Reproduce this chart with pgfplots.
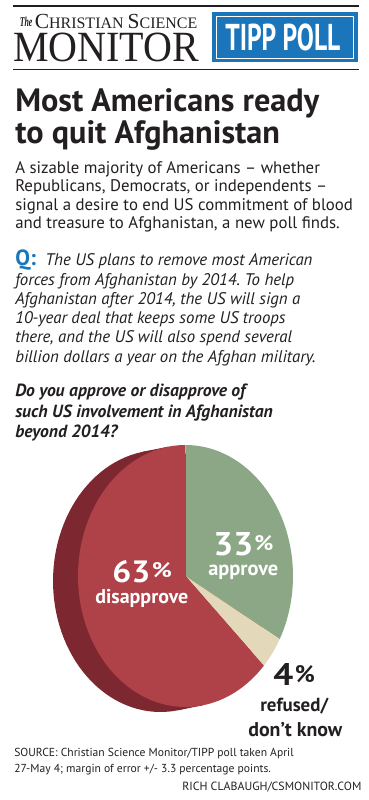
\documentclass[border=0pt]{standalone}
\usepackage{pgfplots}
\pgfplotsset{compat=1.18}
\usepackage{pgfplotstable}
\usepackage{fontspec}
\setmainfont{PT Sans}
\newfontfamily\seriflogo{Liberation Serif}
\frenchspacing
\definecolor{cred}{HTML}{AF4148}
\definecolor{cdark}{HTML}{7D2830}
\definecolor{cgreen}{HTML}{8BA785}
\definecolor{cbeige}{HTML}{E4D8BA}
\definecolor{cblue}{HTML}{1B75BB}
\definecolor{ink}{HTML}{231F20}
\pgfplotstableread{
name value
approve 33
refused 4
disapprove 63
}\pietab
\newcommand\T[4]{\node[anchor=base west,inner sep=0,text=ink] at (axis cs:#1,#2) {\fontsize{#3bp}{#3bp}\selectfont #4};}
\begin{document}
\begin{tikzpicture}
\pgfplotstablegetelem{0}{value}\of\pietab \pgfmathsetmacro\vA{\pgfplotsretval}
\pgfplotstablegetelem{1}{value}\of\pietab \pgfmathsetmacro\vR{\pgfplotsretval}
\pgfplotstablegetelem{2}{value}\of\pietab \pgfmathsetmacro\vD{\pgfplotsretval}
\pgfmathsetmacro\tA{270}
\pgfmathsetmacro\tB{\tA+3.6*\vA}
\pgfmathsetmacro\tC{\tB+3.6*\vR}
\pgfmathsetmacro\tD{\tC+3.6*\vD}
\begin{axis}[width=276.75bp, height=600bp, scale only axis,
  xmin=0, xmax=369, ymin=0, ymax=800, y dir=reverse,
  hide axis, clip=false]
\path (axis cs:0,0) rectangle (axis cs:369,800);
% header
\draw[ink, line width=1.8bp] (axis cs:13,6.2) -- (axis cs:359,6.2);
\draw[ink, line width=1.4bp] (axis cs:13,69.5) -- (axis cs:359,69.5);
\node[anchor=base west,inner sep=0,text=ink] at (axis cs:19.5,26) {\resizebox{9.5bp}{7bp}{\seriflogo\bfseries\itshape The}};
\node[anchor=base west,inner sep=0,text=ink] at (axis cs:34.5,28) {\resizebox{121.9bp}{!}{\seriflogo{\fontsize{25}{25}\selectfont C}{\fontsize{18.6}{18.6}\selectfont HRISTIAN }{\fontsize{25}{25}\selectfont S}{\fontsize{18.6}{18.6}\selectfont CIENCE}}};
\node[anchor=base west,inner sep=0,text=ink] at (axis cs:13,61.3) {\resizebox{139.5bp}{21.4bp}{\seriflogo MONITOR}};
\fill[cblue] (axis cs:211.7,11.7) rectangle (axis cs:358,62.3);
\draw[white, line width=0.7bp] (axis cs:216,16) rectangle (axis cs:353.5,58.2);
\node[anchor=base west,inner sep=0,text=white] at (axis cs:225,50) {\resizebox{86.25bp}{20bp}{\bfseries TIPP POLL}};
% title
\T{15}{111.7}{24.2}{\bfseries Most Americans ready}
\T{15}{143.3}{24.2}{\bfseries to quit Afghanistan}
\T{15}{173.3}{12.6}{A sizable majority of Americans – whether}
\T{15}{191.7}{12.6}{Republicans, Democrats, or independents –}
\T{15}{210}{12.6}{signal a desire to end US commitment of blood}
\T{15}{228.3}{12.6}{and treasure to Afghanistan, a new poll finds.}
\node[anchor=base west,inner sep=0,text=cblue] at (axis cs:15,265.7) {\fontsize{16.5bp}{16.5bp}\selectfont\bfseries Q:};
\T{45}{265.7}{12.6}{\itshape The US plans to remove most American}
\T{15}{285}{12.6}{\itshape forces from Afghanistan by 2014. To help}
\T{15}{304.3}{12.6}{\itshape Afghanistan after 2014, the US will sign a}
\T{15}{323.3}{12.6}{\itshape 10-year deal that keeps some US troops}
\T{15}{342.7}{12.6}{\itshape there, and the US will also spend several}
\T{15}{362}{12.6}{\itshape billion dollars a year on the Afghan military.}
\T{15}{396}{13.2}{\bfseries\itshape Do you approve or disapprove of}
\T{15}{417}{13.2}{\bfseries\itshape such US involvement in Afghanistan}
\T{15}{437}{13.2}{\bfseries\itshape beyond 2014?}
% pie side
\addplot[fill=cdark, draw=none, domain=0:360, samples=120, variable=\t]
  ({160.5+107.5*cos(\t)},{581+131*sin(\t)}) -- cycle;
\addplot[fill=cdark, draw=none] coordinates {(143.1,451.7) (168.1,446.7) (202.9,705.3) (177.9,710.3)} -- cycle;
% pie front
\addplot[fill=cgreen, draw=none, domain=\tA:\tB, samples=80, variable=\t]
  ({185.5+107.5*cos(\t)},{576+131*sin(\t)}) -- (axis cs:185.5,576) -- cycle;
\addplot[fill=cbeige, draw=none, domain=\tB:\tC, samples=20, variable=\t]
  ({185.5+107.5*cos(\t)},{576+131*sin(\t)}) -- (axis cs:185.5,576) -- cycle;
\addplot[fill=cred, draw=none, domain=\tC:\tD, samples=150, variable=\t]
  ({185.5+107.5*cos(\t)},{576+131*sin(\t)}) -- (axis cs:185.5,576) -- cycle;
% pie labels
\node[anchor=base west,inner sep=0,text=white] at (axis cs:112,582) {\resizebox{28.5bp}{16.5bp}{\bfseries 63}};
\node[anchor=base west,inner sep=0,text=white] at (axis cs:151.5,577) {\resizebox{15bp}{11.25bp}{\bfseries\%}};
\node[anchor=base west,inner sep=0,text=white] at (axis cs:95,603) {\resizebox{69.75bp}{!}{\bfseries disapprove}};
\node[anchor=base west,inner sep=0,text=white] at (axis cs:213,555) {\resizebox{30bp}{17.25bp}{\bfseries 33}};
\node[anchor=base west,inner sep=0,text=white] at (axis cs:254,550) {\resizebox{14.25bp}{11.25bp}{\bfseries\%}};
\node[anchor=base west,inner sep=0,text=white] at (axis cs:208,575) {\resizebox{52.5bp}{!}{\bfseries approve}};
\node[anchor=base west,inner sep=0,text=ink] at (axis cs:273,685) {\resizebox{15bp}{16.5bp}{\bfseries 4}};
\node[anchor=base west,inner sep=0,text=ink] at (axis cs:294.5,682) {\resizebox{15bp}{12.75bp}{\bfseries\%}};
\node[anchor=base west,inner sep=0,text=ink] at (axis cs:260,711.7) {\resizebox{51bp}{!}{\bfseries refused/}};
\node[anchor=base west,inner sep=0,text=ink] at (axis cs:248,736.7) {\resizebox{70.5bp}{!}{\bfseries don’t know}};
% footer
\T{14}{756}{8.7}{SOURCE: Christian Science Monitor/TIPP poll taken April}
\T{14}{772.7}{8.7}{27-May 4; margin of error +/- 3.3 percentage points.}
\node[anchor=base east,inner sep=0,text=ink] at (axis cs:361.7,790.7) {\fontsize{8.9bp}{8.9bp}\selectfont RICH CLABAUGH/CSMONITOR.COM};
\end{axis}
\end{tikzpicture}
\end{document}
